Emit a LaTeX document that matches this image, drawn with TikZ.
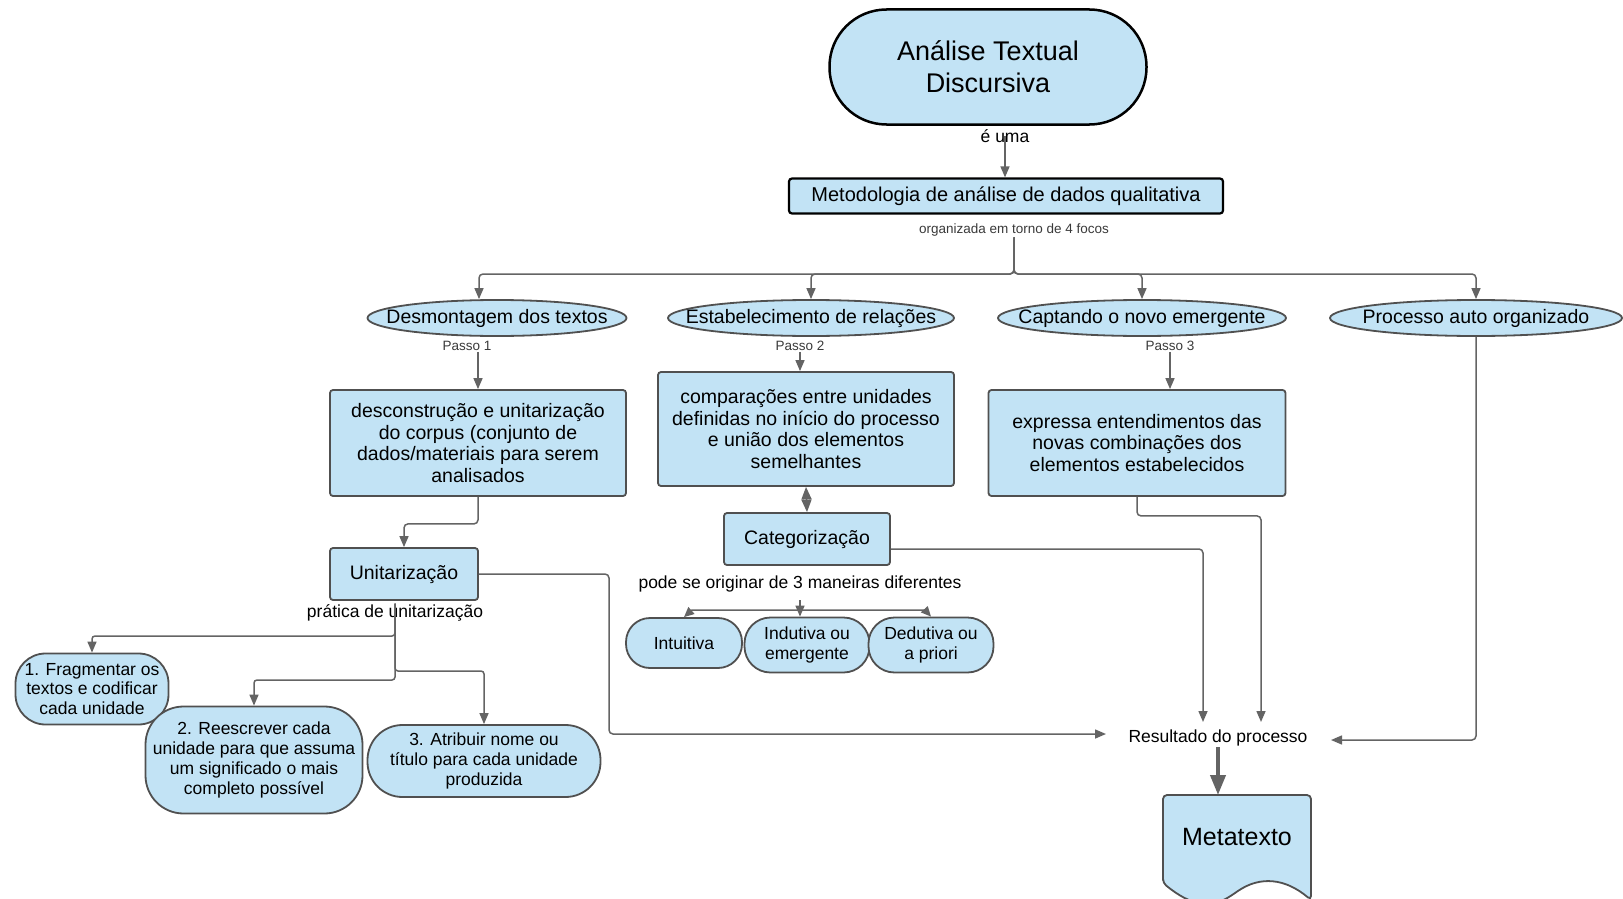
\documentclass[tikz,border=0pt]{standalone}
\usepackage{fontspec}
\setmainfont{Liberation Sans}
\usetikzlibrary{arrows.meta,shapes.geometric}
\definecolor{lb}{HTML}{C2E3F5}
\definecolor{bd}{HTML}{505050}
\definecolor{ln}{HTML}{646464}
\definecolor{tx}{HTML}{3A3A3A}
\begin{document}
\begin{tikzpicture}[x=1pt,y=-1pt,
  box/.style={draw=bd, line width=1.8pt, fill=lb, rounded corners=3pt, align=center, inner sep=0pt, font=\fontsize{19.5}{21.7}\selectfont},
  ell/.style={draw=bd, line width=1.8pt, fill=lb, ellipse, inner sep=0pt, minimum height=36pt, font=\fontsize{19.5}{22}\selectfont},
  term/.style={draw=bd, line width=1.8pt, fill=lb, align=center, inner sep=0pt, font=\fontsize{17.5}{19.7}\selectfont},
  lbl/.style={font=\fontsize{17.5}{20}\selectfont, inner sep=1pt},
  small/.style={font=\fontsize{13.5}{15}\selectfont, text=tx, inner sep=1pt},
  arr/.style={draw=ln, line width=1.5pt, rounded corners=4pt, -{Triangle[length=11pt,width=9pt]}},
  con/.style={draw=ln, line width=1.5pt},
]
\useasboundingbox (0,0) rectangle (1623,899);
\fill[white] (0,0) rectangle (1623,899);

% top
\node[draw=black, line width=2.5pt, fill=lb, rounded corners=57pt, minimum width=317pt, minimum height=115pt, align=center, inner sep=0pt, font=\fontsize{27}{32}\selectfont] (title) at (988,67) {Análise Textual\\Discursiva};
\node[lbl] (eum) at (1005,136) {é uma};
\node[draw=black, line width=2.2pt, fill=lb, rounded corners=3pt, minimum width=434pt, minimum height=35pt, inner sep=0pt, font=\fontsize{20}{22}\selectfont] (metod) at (1006,196) {Metodologia de análise de dados qualitativa};
\node[small] (org) at (1014,230) {organizada em torno de 4 focos};
\coordinate (hub1) at (1014,274);

% focos
\node[ell, minimum width=259pt] (desm) at (497,318) {\makebox[0pt]{Desmontagem dos textos}};
\node[ell, minimum width=286pt] (estab) at (811,318) {\makebox[0pt]{Estabelecimento de relações}};
\node[ell, minimum width=288pt] (capt) at (1142,318) {\makebox[0pt]{Captando o novo emergente}};
\node[ell, minimum width=292pt] (proc) at (1476,318) {\makebox[0pt]{Processo auto organizado}};

\node[small] (passo1) at (467,346) {Passo 1};
\node[small] (passo2) at (800,346) {Passo 2};
\node[small] (passo3) at (1170,346) {Passo 3};

\node[box, minimum width=296pt, minimum height=106pt] (desc) at (478,443) {\raisebox{2pt}{\parbox{290pt}{\centering desconstrução e unitarização\\do corpus (conjunto de\\dados/materiais para serem\\analisados}}};
\node[box, minimum width=296pt, minimum height=114pt] (comp) at (806,429) {\raisebox{2pt}{\parbox{290pt}{\centering comparações entre unidades\\definidas no início do processo\\e união dos elementos\\semelhantes}}};
\node[box, minimum width=297pt, minimum height=106pt] (expr) at (1137,443) {\raisebox{2pt}{\parbox{290pt}{\centering expressa entendimentos das\\novas combinações dos\\elementos estabelecidos}}};

\node[box, minimum width=166pt, minimum height=52pt] (cat) at (807,539) {Categorização};
\node[box, minimum width=148pt, minimum height=52pt] (unit) at (404,574) {Unitarização};

\node[lbl] (prat) at (395,613) {prática de unitarização};
\node[term, rounded corners=30pt, minimum width=153pt, minimum height=71pt] (n1) at (92,689) {1. Fragmentar os\\textos e codificar\\cada unidade};
\node[term, rounded corners=38pt, minimum width=217pt, minimum height=107pt] (n2) at (254,760) {2. Reescrever cada\\unidade para que assuma\\um significado o mais\\completo possível};
\node[term, rounded corners=35pt, minimum width=233pt, minimum height=72pt] (n3) at (484,761) {3. Atribuir nome ou\\título para cada unidade\\produzida};

\node[lbl] (pode) at (800,584) {pode se originar de 3 maneiras diferentes};
\node[term, rounded corners=24pt, minimum width=116pt, minimum height=50pt] (intu) at (684,643) {Intuitiva};
\node[term, rounded corners=26pt, minimum width=125pt, minimum height=55pt] (indu) at (807,645) {Indutiva ou\\emergente};
\node[term, rounded corners=26pt, minimum width=125pt, minimum height=55pt] (dedu) at (931,645) {Dedutiva ou\\a priori};

\node[lbl] (res) at (1218,738) {Resultado do processo};
\coordinate (resL) at (1106,734);
\coordinate (resR) at (1331,740);
\coordinate (resT1) at (1203,722);
\coordinate (resT2) at (1261,722);
\coordinate (metaTop) at (1218,795);

% Metatexto document shape
\draw[draw=bd, line width=1.8pt, fill=lb, rounded corners=4pt] (1163,883) -- (1163,795) -- (1311,795) -- (1311,900) .. controls (1285,878) and (1260,876) .. (1235,893) .. controls (1210,910) and (1190,905) .. (1163,883) -- cycle;
\node[font=\fontsize{25}{28}\selectfont] (meta) at (1237,837) {Metatexto};

% connectors
\draw[arr] (eum.center) -- (eum.center |- metod.north);
\draw[arr] (org.south) -- (hub1) -| ([xshift=-18pt]desm.north);
\draw[arr] (org.south) -- (hub1) -| (estab.north);
\draw[arr] (org.south) -- (hub1) -| (capt.north);
\draw[arr] (org.south) -- (hub1) -| (proc.north);

\draw[arr] (desc.north |- passo1.south) -- (desc.north);
\draw[arr] (passo2.south) -- (passo2.south |- comp.north);
\draw[arr] (passo3.south) -- (passo3.south |- expr.north);

\draw[draw=ln, line width=1.5pt, {Triangle[length=12.5pt,width=10pt]}-{Triangle[length=12.5pt,width=10pt]}] (comp.south) -- (cat.north);

\draw[arr] (desc.south) -- ++(0,27) -| (unit.north);

\coordinate (b1) at (395,636);
\coordinate (b2) at (395,680);
\coordinate (b3) at (395,671);
\draw[arr, rounded corners=3pt] (prat.north) -- (b1) -| (n1.north);
\draw[arr, rounded corners=3pt] (prat.north) -- (b2) -| (n2.north);
\draw[arr, rounded corners=3pt] (prat.north) -- (b3) -| (n3.north);

\coordinate (hub3) at (800,610);
\coordinate (hubtop) at (800,600);
\coordinate (hl) at (692,610);
\coordinate (hr) at (925,610);
\draw[arr, rounded corners=0pt, -{Triangle[length=10pt,width=9pt]}] (hub3) -- (hl) -- (intu.north);
\draw[arr, rounded corners=0pt, -{Triangle[length=10pt,width=9pt]}] (hub3) -- (hr) -- (dedu.north);
\draw[arr, -{Triangle[length=11pt,width=9pt]}] (hubtop) -- (hubtop |- indu.north);

\coordinate (c1) at (609,734);
\draw[arr] (unit.east) -| (c1) -- (resL);
\draw[arr] ([yshift=-10pt]cat.east) -| (resT1);
\draw[arr] (expr.south) -- ++(0,19) -| (resT2);
\draw[arr] (proc.south) |- (resR);

\draw[draw=ln, line width=4pt, -{Triangle[length=20pt,width=15pt]}] (res.south) -- (metaTop);
\end{tikzpicture}
\end{document}
